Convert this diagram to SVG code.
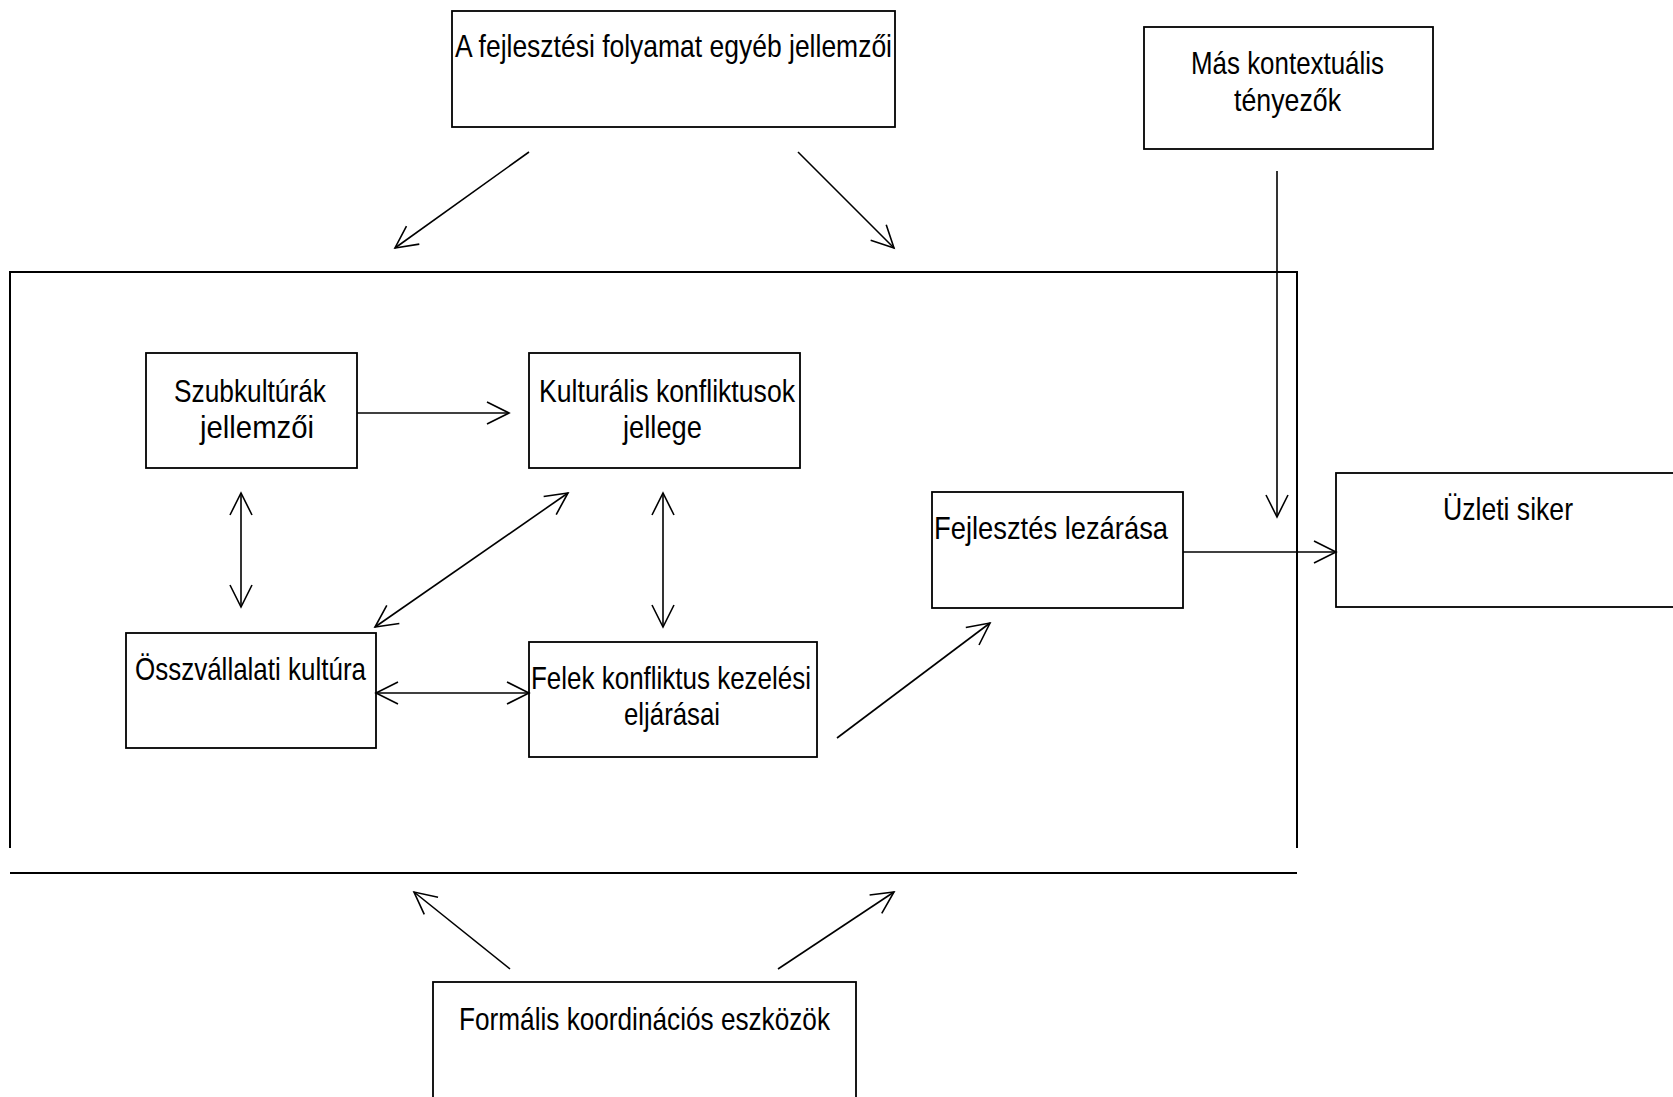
<svg xmlns="http://www.w3.org/2000/svg" width="1673" height="1097" viewBox="0 0 1673 1097">
  <style>
    .box { fill: #fff; stroke: #000; stroke-width: 1.8; }
    .frame { fill: none; stroke: #000; stroke-width: 2; }
    .lbl { font-family: "Liberation Sans Narrow", "Liberation Sans", Arial, sans-serif; font-size: 32px; fill: #000; }
    .arr { fill: none; stroke: #000; stroke-width: 1.6; }
    .one { marker-end: url(#open); }
    .two { marker-start: url(#open); marker-end: url(#open); }
  </style>
  <defs>
    <marker id="open" viewBox="-26 -14 30 28" refX="0" refY="0" markerWidth="30" markerHeight="28" markerUnits="userSpaceOnUse" orient="auto-start-reverse">
      <path d="M-22,-11 L0,0 L-22,11" fill="none" stroke="#000" stroke-width="1.6"/>
    </marker>
  </defs>

  <rect width="1673" height="1097" fill="#fff"/>

  <!-- enclosing frame of the development process -->
  <g id="frame">
    <path class="frame" d="M10,848 V272 H1297 V848"/>
    <path class="frame" d="M10,873 H1297"/>
  </g>

  <g id="node-egyeb">
    <rect class="box" x="452" y="11" width="443" height="116"/>
    <text class="lbl" x="455" y="57" textLength="437" lengthAdjust="spacingAndGlyphs">A fejlesztési folyamat egyéb jellemzői</text>
  </g>

  <g id="node-kontextus">
    <rect class="box" x="1144" y="27" width="289" height="122"/>
    <text class="lbl" x="1191" y="74" textLength="193" lengthAdjust="spacingAndGlyphs">Más kontextuális</text>
    <text class="lbl" x="1234" y="111" textLength="107" lengthAdjust="spacingAndGlyphs">tényezők</text>
  </g>

  <g id="node-szubkultura">
    <rect class="box" x="146" y="353" width="211" height="115"/>
    <text class="lbl" x="174" y="402" textLength="152" lengthAdjust="spacingAndGlyphs">Szubkultúrák</text>
    <text class="lbl" x="200" y="438" textLength="114" lengthAdjust="spacingAndGlyphs">jellemzői</text>
  </g>

  <g id="node-konfliktus">
    <rect class="box" x="529" y="353" width="271" height="115"/>
    <text class="lbl" x="539" y="402" textLength="256" lengthAdjust="spacingAndGlyphs">Kulturális konfliktusok</text>
    <text class="lbl" x="623" y="438" textLength="79" lengthAdjust="spacingAndGlyphs">jellege</text>
  </g>

  <g id="node-osszvallalati">
    <rect class="box" x="126" y="633" width="250" height="115"/>
    <text class="lbl" x="135" y="680" textLength="231" lengthAdjust="spacingAndGlyphs">Összvállalati kultúra</text>
  </g>

  <g id="node-kezeles">
    <rect class="box" x="529" y="642" width="288" height="115"/>
    <text class="lbl" x="531" y="689" textLength="280" lengthAdjust="spacingAndGlyphs">Felek konfliktus kezelési</text>
    <text class="lbl" x="624" y="725" textLength="96" lengthAdjust="spacingAndGlyphs">eljárásai</text>
  </g>

  <g id="node-lezaras">
    <rect class="box" x="932" y="492" width="251" height="116"/>
    <text class="lbl" x="934" y="539" textLength="234" lengthAdjust="spacingAndGlyphs">Fejlesztés lezárása</text>
  </g>

  <g id="node-siker">
    <rect class="box" x="1336" y="473" width="360" height="134"/>
    <text class="lbl" x="1443" y="520" textLength="130" lengthAdjust="spacingAndGlyphs">Üzleti siker</text>
  </g>

  <g id="node-formalis">
    <rect class="box" x="433" y="982" width="423" height="130"/>
    <text class="lbl" x="459" y="1030" textLength="371" lengthAdjust="spacingAndGlyphs">Formális koordinációs eszközök</text>
  </g>

  <g id="connectors">
    <line class="arr one" x1="529" y1="152" x2="395" y2="248"/>
    <line class="arr one" x1="798" y1="152" x2="894" y2="248"/>
    <line class="arr one" x1="1277" y1="171" x2="1277" y2="517"/>
    <line class="arr one" x1="357" y1="413" x2="509" y2="413"/>
    <line class="arr two" x1="241" y1="493" x2="241" y2="607"/>
    <line class="arr two" x1="568" y1="493" x2="375" y2="627"/>
    <line class="arr two" x1="663" y1="493" x2="663" y2="627"/>
    <line class="arr two" x1="376" y1="693" x2="529" y2="693"/>
    <line class="arr one" x1="837" y1="738" x2="990" y2="623"/>
    <line class="arr one" x1="1183" y1="552" x2="1336" y2="552"/>
    <line class="arr one" x1="510" y1="969" x2="414" y2="892"/>
    <line class="arr one" x1="778" y1="969" x2="894" y2="892"/>
  </g>
</svg>
